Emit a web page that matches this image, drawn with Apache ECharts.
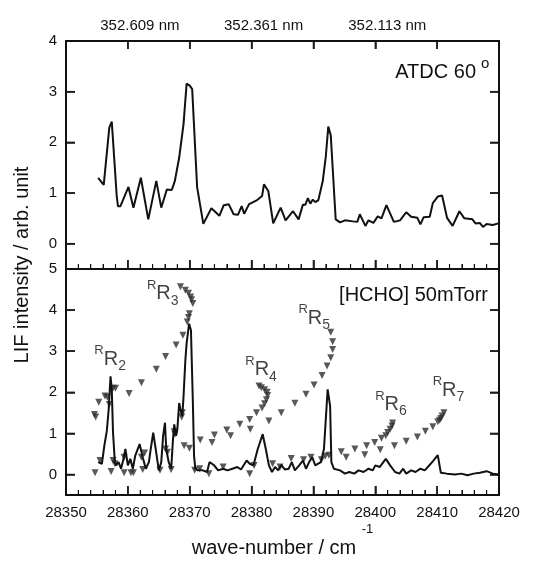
<!DOCTYPE html>
<html>
<head>
<meta charset="utf-8">
<script src="https://cdn.jsdelivr.net/npm/echarts@6.0.0/dist/echarts.min.js"></script>
<style>
  html, body { margin: 0; padding: 0; background: #fff; }
  #chart { width: 552px; height: 563px; }
</style>
</head>
<body>
<div id="chart"></div>
<script>
// ATDC 60 deg trace (upper panel)
const wnAtdc = [28355.2, 28356.1, 28357.0, 28357.4, 28358.2, 28358.4, 28358.8, 28360.1, 28360.9, 28362.1,
  28363.3, 28364.6, 28365.4, 28366.3, 28367.1, 28367.6, 28368.3, 28369.0, 28369.5, 28370.0,
  28370.4, 28371.2, 28372.2, 28373.5, 28374.8, 28375.5, 28376.3, 28377.1, 28377.8, 28378.4,
  28378.8, 28379.6, 28380.9, 28381.7, 28382.0, 28382.7, 28383.5, 28384.7, 28385.0, 28385.5,
  28386.7, 28387.6, 28388.3, 28388.7, 28389.1, 28389.5, 28389.9, 28390.3, 28390.8, 28391.5,
  28392.0, 28392.4, 28392.8, 28393.6, 28394.3, 28395.1, 28396.4, 28397.1, 28397.5, 28398.4,
  28398.9, 28399.7, 28400.4, 28401.0, 28401.8, 28403.0, 28404.0, 28405.0, 28405.8, 28406.8,
  28407.3, 28407.8, 28408.8, 28409.3, 28410.1, 28410.8, 28411.6, 28412.5, 28413.6, 28414.4,
  28415.7, 28416.2, 28416.9, 28417.4, 28418.0, 28419.0, 28419.9];
const intAtdc = [1.30, 1.16, 2.29, 2.41, 0.94, 0.74, 0.74, 1.12, 0.71, 1.30,
  0.48, 1.24, 0.71, 1.07, 1.06, 1.24, 1.70, 2.36, 3.16, 3.12,
  3.05, 1.11, 0.39, 0.70, 0.55, 0.76, 0.78, 0.58, 0.57, 0.74,
  0.59, 0.78, 0.86, 0.94, 1.17, 1.04, 0.40, 0.71, 0.71, 0.46,
  0.64, 0.48, 0.77, 0.77, 0.90, 0.79, 0.87, 0.82, 0.86, 1.23,
  1.72, 2.31, 2.14, 0.48, 0.42, 0.46, 0.44, 0.43, 0.58, 0.35,
  0.46, 0.41, 0.54, 0.50, 0.76, 0.43, 0.46, 0.62, 0.53, 0.51,
  0.38, 0.52, 0.53, 0.80, 0.93, 0.95, 0.51, 0.35, 0.64, 0.50,
  0.48, 0.40, 0.41, 0.33, 0.39, 0.37, 0.40];

// [HCHO] 50 mTorr trace (lower panel)
const wnHcho = [28355.2, 28355.8, 28356.2, 28356.6, 28356.9, 28357.2, 28357.4, 28357.6, 28357.9, 28358.1,
  28358.5, 28358.9, 28359.3, 28359.6, 28360.0, 28360.4, 28360.8, 28361.2, 28361.9, 28362.4,
  28362.9, 28363.4, 28363.7, 28364.1, 28364.5, 28365.0, 28365.4, 28365.7, 28366.0, 28366.2,
  28366.6, 28367.0, 28367.3, 28367.5, 28367.8, 28368.0, 28368.3, 28368.5, 28368.8, 28369.0,
  28369.3, 28369.5, 28369.9, 28370.2, 28370.5, 28370.7, 28370.9, 28371.3, 28372.1, 28372.8,
  28373.2, 28373.9, 28374.6, 28375.4, 28376.1, 28376.9, 28377.7, 28378.3, 28378.7, 28379.2,
  28379.7, 28380.3, 28381.0, 28381.8, 28382.3, 28382.8, 28383.3, 28383.8, 28384.3, 28384.8,
  28385.4, 28386.0, 28386.5, 28387.0, 28387.7, 28388.3, 28388.8, 28389.3, 28389.8, 28390.3,
  28391.2, 28391.7, 28392.3, 28392.7, 28392.9, 28393.3, 28394.3, 28395.1, 28395.8, 28396.6,
  28397.3, 28398.1, 28398.9, 28399.6, 28400.0, 28400.7, 28401.7, 28402.4, 28403.2, 28403.9,
  28404.5, 28405.0, 28405.8, 28406.5, 28407.3, 28408.0, 28408.6, 28409.3, 28410.1, 28410.6,
  28411.6, 28412.9, 28413.9, 28414.9, 28415.9, 28416.9, 28418.0, 28419.0, 28419.9];
const intHcho = [0.30, 0.26, 0.70, 1.06, 1.58, 2.39, 2.07, 1.02, 0.30, 0.22,
  0.30, 0.14, 0.38, 0.62, 0.22, 0.38, 0.14, 0.46, 0.74, 0.42,
  0.14, 0.30, 0.62, 1.02, 0.62, 0.10, 0.30, 0.94, 1.26, 0.62,
  0.30, 0.14, 0.86, 1.22, 0.94, 1.10, 1.74, 1.58, 1.42, 1.90,
  2.79, 3.19, 3.67, 3.51, 1.82, 0.46, 0.14, 0.10, 0.10, 0.06,
  0.30, 0.23, 0.10, 0.14, 0.10, 0.14, 0.18, 0.12, 0.22, 0.34,
  0.26, 0.22, 0.62, 0.98, 0.62, 0.22, 0.06, 0.18, 0.10, 0.23,
  0.12, 0.14, 0.30, 0.10, 0.22, 0.34, 0.14, 0.30, 0.42, 0.22,
  0.30, 0.62, 2.07, 1.66, 0.30, 0.14, 0.10, 0.02, 0.06, 0.02,
  0.10, 0.06, 0.14, 0.10, 0.22, 0.18, 0.38, 0.22, 0.06, 0.02,
  0.14, 0.02, 0.10, 0.06, 0.14, 0.10, 0.20, 0.32, 0.47, 0.04,
  0.02, 0.00, 0.02, -0.02, 0.02, 0.04, 0.08, 0.02, 0.00];

// calculated line positions (triangles), [wave-number, intensity]
const triRR2 = [[28354.6, 1.46], [28354.8, 1.40], [28355.3, 1.76], [28356.3, 1.91], [28356.7, 1.88],
  [28357.0, 1.70], [28357.6, 2.10], [28358.0, 2.10]];
const triRR3 = [[28360.2, 1.97], [28362.2, 2.23], [28364.6, 2.56], [28366.1, 2.87], [28367.8, 3.15],
  [28368.9, 3.39], [28369.6, 3.71], [28369.8, 3.82], [28369.95, 3.91], [28370.5, 4.16],
  [28370.3, 4.25], [28370.15, 4.32], [28369.8, 4.41], [28369.3, 4.48], [28368.5, 4.57]];
const triRR4 = [[28371.7, 0.84], [28373.6, 0.78], [28374.0, 0.96], [28376.0, 1.08], [28376.6, 0.94],
  [28378.1, 1.22], [28379.7, 1.34], [28379.8, 1.10], [28380.8, 1.50], [28381.7, 1.62],
  [28382.1, 1.72], [28382.4, 1.82], [28382.6, 1.92], [28382.5, 2.00], [28382.1, 2.06],
  [28381.6, 2.11], [28381.2, 2.15]];
const triRR5 = [[28382.8, 1.30], [28384.8, 1.50], [28387.0, 1.73], [28388.8, 1.95], [28390.1, 2.18],
  [28391.4, 2.41], [28392.2, 2.64], [28392.8, 2.84], [28393.1, 3.04], [28393.1, 3.23], [28392.8, 3.46]];
const triRR6 = [[28394.5, 0.55], [28395.3, 0.42], [28396.7, 0.62], [28398.3, 0.48], [28398.6, 0.70],
  [28399.9, 0.78], [28400.8, 0.60], [28401.0, 0.88], [28401.7, 0.94], [28402.0, 1.02],
  [28402.4, 1.10], [28402.7, 1.18], [28402.8, 1.25]];
const triRR7 = [[28403.1, 0.70], [28405.0, 0.81], [28406.8, 0.91], [28408.1, 1.05], [28409.3, 1.16],
  [28410.1, 1.28], [28410.4, 1.32], [28410.6, 1.36], [28410.8, 1.42], [28411.1, 1.50]];
const triLow = [[28354.7, 0.04], [28355.5, 0.34], [28357.3, 0.07], [28357.6, 0.34], [28357.9, 0.26],
  [28359.4, 0.42], [28359.4, 0.04], [28360.5, 0.04], [28360.9, 0.04], [28362.2, 0.42],
  [28362.4, 0.12], [28362.7, 0.52], [28365.2, 0.10], [28366.1, 0.62], [28366.4, 0.54],
  [28367.0, 0.12], [28367.5, 1.04], [28367.6, 0.98], [28368.7, 1.40], [28368.8, 1.50],
  [28369.1, 0.70], [28369.95, 0.64], [28370.8, 0.10], [28371.6, 0.14], [28373.1, 0.02],
  [28375.4, 0.18], [28379.7, 0.02], [28380.4, 0.22], [28383.4, 0.26], [28384.6, 0.18],
  [28386.4, 0.39], [28388.4, 0.36], [28389.6, 0.42], [28391.3, 0.36], [28391.9, 0.44], [28392.5, 0.47]];

// branch labels (K number, anchor in data units)
const branchK = ['2', '3', '4', '5', '6', '7'];
const branchAt = [[28354.5, 2.8], [28363.0, 4.4], [28378.9, 2.55], [28387.5, 3.8], [28399.9, 1.7], [28409.2, 2.05]];

// tick values
const xTicks = [28350, 28360, 28370, 28380, 28390, 28400, 28410, 28420];
const xInnerTicks = [28360, 28370, 28380, 28390, 28400, 28410];
const xMinorTicks = [28352, 28354, 28356, 28358, 28362, 28364, 28366, 28368, 28372, 28374, 28376, 28378,
  28382, 28384, 28386, 28388, 28392, 28394, 28396, 28398, 28402, 28404, 28406, 28408,
  28412, 28414, 28416, 28418];
const nmTicks = [28360, 28380, 28400];
const yTicksTop = [0, 1, 2, 3, 4];
const yTicksBottom = [0, 1, 2, 3, 4, 5];

const FONT = 'Liberation Sans, Arial, Helvetica, sans-serif';
const INK = '#111';
const X_MIN = 28350, X_MAX = 28420, Y_MIN = -0.5;

function zip(xs, ys) {
  return xs.map(function (x, i) { return [x, ys[i]]; });
}

function tick(len) {
  return { show: true, inside: true, length: len, lineStyle: { color: INK, width: 1.5 } };
}

function xAxisBase(grid, position) {
  return {
    type: 'value', gridIndex: grid, position: position,
    min: X_MIN, max: X_MAX, interval: 10,
    axisLine: { show: true, onZero: false, lineStyle: { color: INK, width: 2 } },
    axisTick: tick(9),
    minorTick: { show: false },
    axisLabel: { show: false },
    splitLine: { show: false }
  };
}

function yAxisBase(grid, position, max, ticks, labels) {
  const t = tick(9);
  t.customValues = ticks;
  return {
    type: 'value', gridIndex: grid, position: position,
    min: Y_MIN, max: max,
    axisLine: { show: true, onZero: false, lineStyle: { color: INK, width: 2 } },
    axisTick: t,
    axisLabel: { show: labels, customValues: ticks, margin: 9, color: INK, fontSize: 15 },
    splitLine: { show: false }
  };
}

const bottomX = xAxisBase(1, 'bottom');
bottomX.minorTick = { show: true, splitNumber: 5, length: 5 };
bottomX.axisLabel = {
  show: true, customValues: xTicks, margin: 10, color: INK, fontSize: 15,
  formatter: function (v) { return String(v); }
};
bottomX.name = '{a|wave-number / cm }{s|-1}';
bottomX.nameLocation = 'middle';
bottomX.nameGap = 28;
bottomX.nameTextStyle = {
  rich: {
    a: { fontSize: 20, color: INK, lineHeight: 50 },
    s: { fontSize: 13, color: INK, verticalAlign: 'top', lineHeight: 14 }
  }
};

const topBottomX = xAxisBase(0, 'bottom');
topBottomX.minorTick = { show: true, splitNumber: 5, length: 5 };

const topTopX = xAxisBase(0, 'top');
topTopX.axisTick = tick(8);
topTopX.axisLabel = {
  show: true, customValues: nmTicks, margin: 8, color: INK, fontSize: 15,
  padding: [0, 0, 0, 24],
  formatter: function (v) { return (1e7 / v).toFixed(3) + ' nm'; }
};

const lowerTopX = xAxisBase(1, 'top');
lowerTopX.axisTick = { show: false };

// frame ticks as thin rect symbols placed through the axes' scale
function tickSeries(xi, yi, data, size, offset) {
  return {
    type: 'scatter', xAxisIndex: xi, yAxisIndex: yi, clip: false,
    symbol: 'rect', symbolSize: size, symbolOffset: offset,
    itemStyle: { color: INK },
    data: data, z: 5
  };
}
function atY(xs, y) { return xs.map(function (v) { return [v, y]; }); }
function atX(x, ys) { return ys.map(function (v) { return [x, v]; }); }

const branchRich = {
  s: { fontSize: 13, color: INK, verticalAlign: 'top', lineHeight: 13 },
  b: { fontSize: 20, color: INK, lineHeight: 30 },
  d: { fontSize: 14, color: INK, verticalAlign: 'bottom', lineHeight: 14, padding: [0, 0, 1, 0] }
};

function triSeries(name, data) {
  return {
    name: name, type: 'scatter', xAxisIndex: 2, yAxisIndex: 2,
    symbol: 'triangle', symbolRotate: 180, symbolSize: 7,
    itemStyle: { color: '#2e2e2e' },
    data: data
  };
}

const chart = echarts.init(document.getElementById('chart'));

chart.setOption({
  animation: false,
  textStyle: { fontFamily: FONT },
  grid: [
    { left: 66, right: 53, top: 41, height: 228, containLabel: false, outerBoundsMode: 'none' },
    { left: 66, right: 53, top: 269, height: 226, containLabel: false, outerBoundsMode: 'none' }
  ],
  xAxis: [topBottomX, topTopX, bottomX, lowerTopX],
  yAxis: [
    yAxisBase(0, 'left', 4, yTicksTop, true),
    yAxisBase(0, 'right', 4, yTicksTop, false),
    yAxisBase(1, 'left', 5, yTicksBottom, true),
    yAxisBase(1, 'right', 5, yTicksBottom, false)
  ],
  graphic: [
    {
      type: 'text', x: 22, y: 265, rotation: Math.PI / 2,
      style: { text: 'LIF intensity / arb. unit', fill: INK, font: '20px ' + FONT, textAlign: 'center', textVerticalAlign: 'middle' }
    },
    {
      type: 'text', x: 476, y: 72,
      style: { text: 'ATDC 60', fill: INK, font: '20px ' + FONT, textAlign: 'right', textVerticalAlign: 'middle' }
    },
    {
      type: 'text', x: 481, y: 64,
      style: { text: 'o', fill: INK, font: '15px ' + FONT, textAlign: 'left', textVerticalAlign: 'middle' }
    },
    {
      type: 'text', x: 488, y: 295,
      style: { text: '[HCHO] 50mTorr', fill: INK, font: '20px ' + FONT, textAlign: 'right', textVerticalAlign: 'middle' }
    }
  ],
  series: [
    {
      name: 'ATDC 60', type: 'line', xAxisIndex: 0, yAxisIndex: 0, symbol: 'none',
      lineStyle: { color: INK, width: 2 },
      data: zip(wnAtdc, intAtdc)
    },
    {
      name: 'HCHO', type: 'line', xAxisIndex: 2, yAxisIndex: 2, symbol: 'none',
      lineStyle: { color: INK, width: 2 },
      data: zip(wnHcho, intHcho)
    },
    triSeries('RR2', triRR2),
    triSeries('RR3', triRR3),
    triSeries('RR4', triRR4),
    triSeries('RR5', triRR5),
    triSeries('RR6', triRR6),
    triSeries('RR7', triRR7),
    triSeries('low', triLow),
    {
      name: 'labels', type: 'scatter', xAxisIndex: 2, yAxisIndex: 2,
      symbolSize: 1, itemStyle: { color: 'transparent' },
      data: branchAt,
      label: {
        show: true, position: 'right', distance: 0,
        formatter: function (p) { return '{s|R}{b|R}{d|' + branchK[p.dataIndex] + '}'; },
        rich: branchRich
      }
    },
    // upper panel ticks
    tickSeries(0, 0, atY(xInnerTicks, Y_MIN), [1.5, 9], [0, -4.5]),
    tickSeries(0, 0, atY(xMinorTicks, Y_MIN), [1.2, 5], [0, -2.5]),
    tickSeries(0, 0, atY(xInnerTicks, 4), [1.5, 8], [0, 4]),
    tickSeries(0, 0, atX(X_MIN, yTicksTop), [9, 1.5], [4.5, 0]),
    tickSeries(0, 0, atX(X_MAX, yTicksTop), [9, 1.5], [-4.5, 0]),
    // lower panel ticks
    tickSeries(2, 2, atY(xInnerTicks, Y_MIN), [1.5, 9], [0, -4.5]),
    tickSeries(2, 2, atY(xMinorTicks, Y_MIN), [1.2, 5], [0, -2.5]),
    tickSeries(2, 2, atX(X_MIN, yTicksBottom), [9, 1.5], [4.5, 0]),
    tickSeries(2, 2, atX(X_MAX, yTicksBottom), [9, 1.5], [-4.5, 0])
  ]
});
</script>
</body>
</html>
